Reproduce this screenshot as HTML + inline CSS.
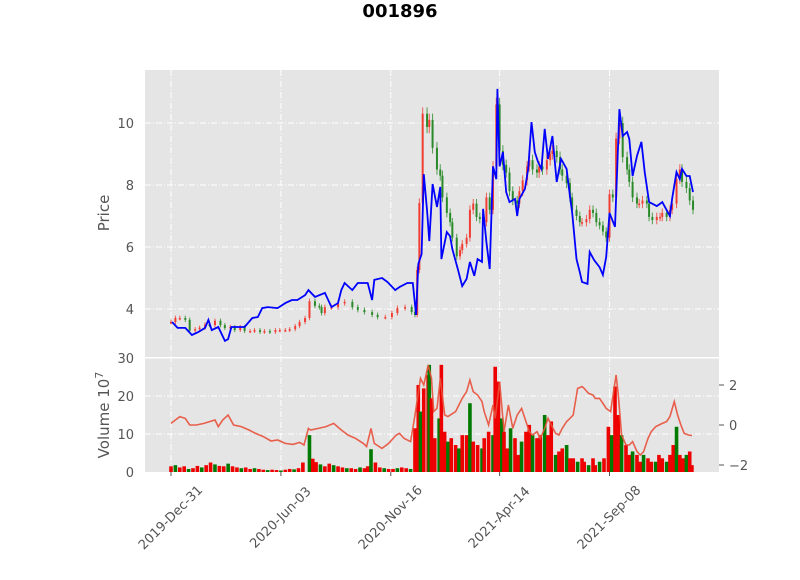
<!DOCTYPE html>
<html><head><meta charset="utf-8"><style>
body{margin:0;background:#fff;}
svg text{font-family:"DejaVu Sans","Liberation Sans",sans-serif;}
</style></head><body>
<svg id="c" width="800" height="575" xmlns="http://www.w3.org/2000/svg">
<text x="400" y="17" text-anchor="middle" font-size="18" font-weight="bold" fill="#000">001896</text>
<rect x="145" y="70" width="574" height="287" fill="#e5e5e5"/>
<rect x="145" y="358" width="574" height="114" fill="#e5e5e5"/>
<g id="grid"></g><g id="marks"></g><g id="axes"></g>
<text transform="translate(109,213) rotate(-90)" text-anchor="middle" font-size="15" fill="#555">Price</text>
<text transform="translate(109,415) rotate(-90)" text-anchor="middle" font-size="15" fill="#555">Volume  10<tspan dy="-6" font-size="11">7</tspan></text>
</svg>
<script>
const tickDays=[0,100,200,299,399];
const tickLabels=["2019-Dec-31","2020-Jun-03","2020-Nov-16","2021-Apr-14","2021-Sep-08"];
const priceTicks=[4,6,8,10];
const volTicks=[0,10,20,30];
const rightTicks=[-2,0,2];
const candleDays=[0,4,8,13,17,22,26,31,35,40,45,49,54,58,63,67,72,76,81,85,90,95,99,104,108,113,117,122,126,131,135,137,140,146,152,158,165,170,176,183,188,195,201,206,213,219,222,224,226,229,233,235,238,242,245,247,251,254,256,260,263,265,269,272,275,278,281,284,287,290,293,296,299,302,305,308,311,315,317,320,324,326,329,333,335,338,342,345,347,351,354,356,360,363,365,369,372,374,378,381,384,387,390,393,396,399,402,405,408,411,415,417,420,424,426,429,433,435,438,442,445,447,451,454,456,460,463,465,469,472,475];
const candleClose=[3.58,3.71,3.71,3.65,3.3,3.35,3.4,3.5,3.48,3.62,3.48,3.39,3.42,3.32,3.42,3.29,3.29,3.32,3.26,3.29,3.26,3.32,3.32,3.32,3.35,3.45,3.58,3.71,4.25,4.1,4.06,3.87,4.06,4.06,4.19,4.23,4.06,3.97,3.9,3.81,3.74,3.74,3.87,4.03,4.06,3.9,3.81,5.26,7.42,10.3,9.87,10.1,9.2,8.5,8.3,7.6,7.1,6.8,6.3,5.7,5.9,6.1,6.3,7.2,7.4,6.97,6.9,6.8,7.6,7.2,8.6,10.6,9.1,8.65,8.4,7.8,7.5,7.4,7.8,8.15,8.6,8.8,8.5,8.4,8.6,8.5,8.8,9.0,9.1,8.9,8.5,8.3,8.06,7.6,7.2,7.0,6.8,6.8,6.9,7.2,7.1,6.8,6.7,6.5,6.3,7.7,7.6,9.5,10.0,8.9,8.5,8.1,7.6,7.4,7.4,7.5,7.4,6.97,6.87,6.97,6.97,7.1,6.97,7.2,7.4,8.2,8.5,8.1,7.9,7.5,7.2];
const lineDays=[1,6,13,19,25,31,34,37,43,49,52,55,61,67,74,79,83,88,97,104,110,115,122,125,131,140,146,152,155,158,165,170,179,183,185,192,197,204,208,215,220,223,225,228,230,233,235,238,242,245,246,251,254,256,261,265,269,272,276,279,283,284,287,290,293,296,297,299,302,305,308,313,315,317,322,325,328,331,334,337,340,343,347,351,355,360,363,365,369,372,374,379,381,385,390,393,396,399,404,406,408,411,415,417,420,424,428,431,435,442,447,454,456,460,463,465,469,472,475];
const lineValues=[3.58,3.39,3.39,3.16,3.26,3.39,3.65,3.32,3.42,2.97,3.03,3.42,3.42,3.42,3.71,3.74,4.03,4.06,4.03,4.19,4.29,4.29,4.45,4.61,4.39,4.52,4.06,4.19,4.61,4.84,4.61,4.84,4.84,4.29,4.94,5.0,4.87,4.61,4.71,4.84,4.84,3.81,5.45,5.77,8.35,7.16,6.19,8.03,7.29,7.94,5.61,6.48,6.35,5.94,5.29,4.74,4.97,5.52,5.07,5.61,5.52,7.23,6.16,5.29,8.6,8.19,11.1,8.6,9.06,7.77,7.45,7.55,7.0,7.55,7.87,8.52,10.03,9.06,8.74,8.52,9.81,8.84,9.58,8.1,8.84,8.52,7.65,7.13,5.61,5.19,4.87,4.81,5.84,5.58,5.35,5.1,5.68,7.1,6.65,8.52,10.45,9.58,9.71,9.48,8.29,8.94,9.39,8.42,7.45,7.32,7.45,7.0,7.55,8.42,8.19,8.52,8.29,8.29,7.77];
const volDays=[0,4,8,12,16,20,24,28,32,36,40,44,48,52,56,60,64,68,72,76,80,84,88,92,96,100,104,108,112,116,120,126,129,132,136,140,144,148,152,156,160,164,168,172,176,179,182,186,190,194,198,202,206,210,214,218,222,225,227,230,234,235,237,240,244,246,249,252,255,259,262,265,269,272,275,279,283,285,289,293,295,298,301,303,306,309,313,316,319,323,326,329,333,336,340,343,346,350,353,356,360,363,366,370,374,376,380,384,386,390,394,398,401,404,407,410,414,417,420,424,427,430,434,437,441,444,447,451,454,457,460,463,466,469,472,474];
const volValues=[1.5,1.8,1.2,1.5,0.8,1.0,1.6,1.2,1.8,2.5,2.0,1.6,1.5,2.2,1.5,1.2,1.0,1.2,0.8,1.0,0.8,0.6,0.5,0.6,0.5,0.4,0.6,0.8,0.7,1.0,2.5,9.7,3.5,2.6,2.0,1.5,2.2,1.8,1.5,1.2,1.0,1.0,0.8,1.2,1.0,1.5,6.0,2.5,1.2,1.0,0.8,0.8,1.0,1.2,1.0,0.8,11.5,22.9,15.9,22,25.5,28.2,19.4,8.9,14.1,28.2,10.6,8.0,8.9,7.1,6.2,9.7,9.7,18.1,8.0,7.1,6.2,8.9,10.6,9.7,27.7,23.8,14.1,10.6,6.2,11.5,8.9,4.5,8.0,10.6,12.4,9.7,8.9,9.7,15.0,9.7,13.3,4.5,5.4,6.2,7.1,3.6,3.6,2.7,3.6,2.7,1.8,3.6,1.8,2.7,3.6,11.9,9.7,22.5,15.0,9.7,7.1,4.5,5.4,4.5,2.7,4.5,3.6,2.7,2.7,4.5,3.6,2.7,4.5,7.1,11.9,4.5,3.6,4.5,5.4,1.8];
const oscDays=[0,8,13,17,23,30,35,40,43,47,52,57,64,71,77,84,91,97,104,111,117,121,125,127,134,141,148,155,161,168,175,178,182,185,192,198,205,208,212,218,222,227,230,234,237,239,242,245,249,252,259,262,265,269,272,275,279,283,285,289,293,295,299,303,307,311,315,319,323,326,329,333,336,340,343,346,350,353,356,360,363,366,370,374,376,380,384,386,390,394,396,400,405,407,410,414,417,420,424,427,430,434,437,441,444,447,451,454,458,461,464,467,471,474];
const oscValues=[0.08,0.42,0.33,0,0,0.08,0.17,0.25,-0.08,0.25,0.5,0,-0.08,-0.25,-0.42,-0.58,-0.8,-0.75,-0.92,-0.97,-0.87,-1.0,-0.17,-0.25,-0.17,-0.08,0.08,-0.25,-0.5,-0.67,-0.92,-1.08,-0.17,-0.92,-1.17,-0.92,-0.5,-0.42,-0.67,-0.83,0.5,2.33,2.0,3.0,2.33,0.67,0.83,2.33,0.5,0.42,0.67,1.0,1.33,1.67,2.25,1.67,1.5,1.17,0.67,0,1.0,0.33,2.17,-0.33,1.0,-0.17,0.5,0.83,0.17,-0.33,-0.5,-0.33,-0.67,-0.17,0.33,0,-0.42,-0.5,-0.17,0.17,0.33,0.5,1.83,1.92,1.83,1.58,1.5,1.33,1.33,1.0,0.83,0.67,2.5,1.5,-0.5,-1.0,-1.0,-0.83,-1.33,-1.5,-1.33,-0.67,-0.33,-0.08,0,0.08,0.17,0.42,1.17,0.5,0,-0.42,-0.5,-0.53];

const NS="http://www.w3.org/2000/svg";
const xS=d=>171+d*1.099;
const yP=p=>309-(p-4)*31;
const yV=v=>472-v*3.8;
const yR=r=>425-r*20;
const grid=document.getElementById('grid'),marks=document.getElementById('marks'),axes=document.getElementById('axes');
function mk(tag,attrs,parent){const e=document.createElementNS(NS,tag);for(const k in attrs)e.setAttribute(k,attrs[k]);parent.appendChild(e);return e;}
const gs={stroke:"#fff","stroke-width":1,"stroke-dasharray":"6,2,1,2"};
tickDays.forEach((d,i)=>{
  const x=xS(d);
  let g=mk('line',Object.assign({x1:x,x2:x,y1:70,y2:472},gs),grid);
  
  
  let t=mk('line',{x1:x,x2:x,y1:472,y2:476,stroke:"#555"},axes);
  
  
  let l=mk('text',{transform:`translate(${x},${518}) rotate(-45)`,"text-anchor":"middle","dominant-baseline":"central","font-size":13,fill:"#555"},axes);
  l.textContent=tickLabels[i];
  
  
});
priceTicks.forEach(p=>{
  const y=yP(p);
  let g=mk('line',Object.assign({x1:145,x2:719,y1:y,y2:y},gs),grid);
  
  
  let l=mk('text',{x:134,y:y+5,"text-anchor":"end","font-size":13,fill:"#555"},axes);
  l.textContent=p;
  
  
});
volTicks.forEach(v=>{
  const y=yV(v);
  if(v>0&&v<30){let g=mk('line',Object.assign({x1:145,x2:719,y1:y,y2:y},gs),grid);
  
  }
  let l=mk('text',{x:134,y:y+5,"text-anchor":"end","font-size":13,fill:"#555"},axes);
  l.textContent=v;
  
  
});
rightTicks.forEach(r=>{
  const y=yR(r);
  let t=mk('line',{x1:719,x2:724,y1:y,y2:y,stroke:"#555"},axes);
  
  
  let l=mk('text',{x:729,y:y+5,"font-size":13,fill:"#555"},axes);
  l.textContent=r<0?"\u2212"+(-r):r;
  
  
});
volDays.forEach((d,i)=>{
  const v=volValues[i];const x=xS(d);
  const col=(i%3===1)?"#007a00":"#ee0000";
  let b=mk('rect',{x:x-1.8,y:yV(v),width:3.6,height:472-yV(v),fill:col},marks);
  
  
});
let op=oscDays.map((d,i)=>(i?'L':'M')+xS(d).toFixed(1)+','+yR(oscValues[i]).toFixed(1)).join('');
let ol=mk('path',{d:op,fill:"none",stroke:"#e8503a","stroke-width":1.6,opacity:0.9},marks);


candleDays.forEach((d,i)=>{
  const c=candleClose[i];const o=i?candleClose[i-1]:c;
  const x=xS(d);
  const col=c>=o?"#f03c32":"#2a8a2a";
  const hi=Math.max(o,c)*1.02,lo=Math.min(o,c)*0.98;
  let w=mk('line',{x1:x,x2:x,y1:yP(hi),y2:yP(lo),stroke:col,"stroke-width":1,opacity:0.8},marks);
  
  
  let b=mk('rect',{x:x-1,y:Math.min(yP(o),yP(c)),width:2,height:Math.max(1.5,Math.abs(yP(o)-yP(c))),fill:col},marks);
  
  
});
let lp=lineDays.map((d,i)=>(i?'L':'M')+xS(d).toFixed(1)+','+yP(lineValues[i]).toFixed(1)).join('');
let bl=mk('path',{d:lp,fill:"none",stroke:"#0000ff","stroke-width":1.8},marks);


let s=mk('rect',{x:145,y:357,width:574,height:1.5,fill:"#fff"},axes);


</script>
</body></html>
